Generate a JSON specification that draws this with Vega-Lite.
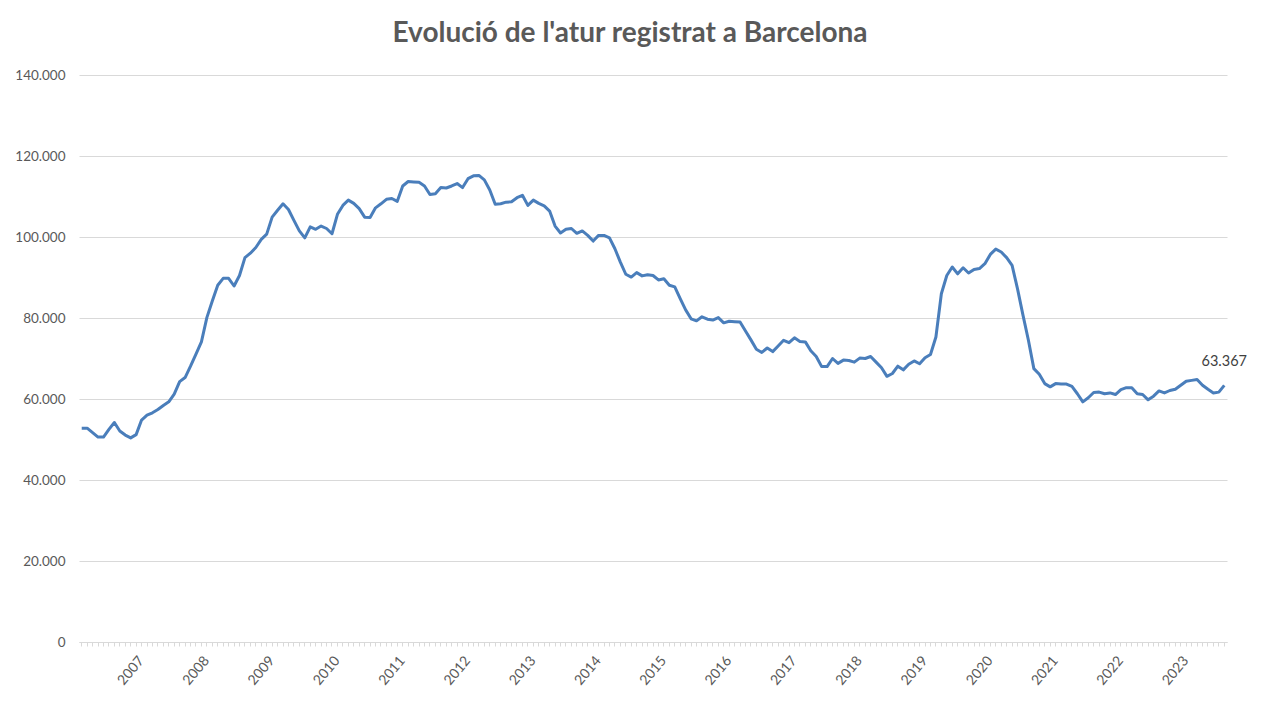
{
  "$schema": "https://vega.github.io/schema/vega-lite/v6.json",
  "autosize": "none",
  "width": 1148,
  "height": 567,
  "padding": {"left": 79, "top": 75, "right": 35, "bottom": 60},
  "background": "white",
  "title": {
    "text": "Evolució de l'atur registrat a Barcelona",
    "font": "Lato",
    "fontSize": 28,
    "fontWeight": "bold",
    "color": "#595959",
    "anchor": "middle",
    "dx": -23,
    "offset": 20
  },
  "config": {
    "locale": {"number": {"decimal": ",", "thousands": ".", "grouping": [3], "currency": ["", " €"]}},
    "view": {"stroke": null}
  },
  "data": {
    "values": [
      {"mes": "2007-01", "atur": 52800}, {"mes": "2007-02", "atur": 52800}, {"mes": "2007-03", "atur": 51700}, {"mes": "2007-04", "atur": 50600},
      {"mes": "2007-05", "atur": 50600}, {"mes": "2007-06", "atur": 52500}, {"mes": "2007-07", "atur": 54200}, {"mes": "2007-08", "atur": 52100},
      {"mes": "2007-09", "atur": 51100}, {"mes": "2007-10", "atur": 50400}, {"mes": "2007-11", "atur": 51200}, {"mes": "2007-12", "atur": 54800},
      {"mes": "2008-01", "atur": 56000}, {"mes": "2008-02", "atur": 56600}, {"mes": "2008-03", "atur": 57400}, {"mes": "2008-04", "atur": 58400},
      {"mes": "2008-05", "atur": 59300}, {"mes": "2008-06", "atur": 61200}, {"mes": "2008-07", "atur": 64300}, {"mes": "2008-08", "atur": 65300},
      {"mes": "2008-09", "atur": 68100}, {"mes": "2008-10", "atur": 71100}, {"mes": "2008-11", "atur": 74100}, {"mes": "2008-12", "atur": 80100},
      {"mes": "2009-01", "atur": 84200}, {"mes": "2009-02", "atur": 88100}, {"mes": "2009-03", "atur": 89800}, {"mes": "2009-04", "atur": 89800},
      {"mes": "2009-05", "atur": 87900}, {"mes": "2009-06", "atur": 90500}, {"mes": "2009-07", "atur": 94900}, {"mes": "2009-08", "atur": 96000},
      {"mes": "2009-09", "atur": 97400}, {"mes": "2009-10", "atur": 99400}, {"mes": "2009-11", "atur": 100700}, {"mes": "2009-12", "atur": 104900},
      {"mes": "2010-01", "atur": 106600}, {"mes": "2010-02", "atur": 108200}, {"mes": "2010-03", "atur": 106800}, {"mes": "2010-04", "atur": 104100},
      {"mes": "2010-05", "atur": 101500}, {"mes": "2010-06", "atur": 99800}, {"mes": "2010-07", "atur": 102500}, {"mes": "2010-08", "atur": 101900},
      {"mes": "2010-09", "atur": 102700}, {"mes": "2010-10", "atur": 102100}, {"mes": "2010-11", "atur": 100800}, {"mes": "2010-12", "atur": 105600},
      {"mes": "2011-01", "atur": 107800}, {"mes": "2011-02", "atur": 109100}, {"mes": "2011-03", "atur": 108300}, {"mes": "2011-04", "atur": 107000},
      {"mes": "2011-05", "atur": 104900}, {"mes": "2011-06", "atur": 104800}, {"mes": "2011-07", "atur": 107200}, {"mes": "2011-08", "atur": 108200},
      {"mes": "2011-09", "atur": 109300}, {"mes": "2011-10", "atur": 109500}, {"mes": "2011-11", "atur": 108800}, {"mes": "2011-12", "atur": 112600},
      {"mes": "2012-01", "atur": 113700}, {"mes": "2012-02", "atur": 113600}, {"mes": "2012-03", "atur": 113500}, {"mes": "2012-04", "atur": 112600},
      {"mes": "2012-05", "atur": 110500}, {"mes": "2012-06", "atur": 110700}, {"mes": "2012-07", "atur": 112200}, {"mes": "2012-08", "atur": 112100},
      {"mes": "2012-09", "atur": 112600}, {"mes": "2012-10", "atur": 113200}, {"mes": "2012-11", "atur": 112200}, {"mes": "2012-12", "atur": 114400},
      {"mes": "2013-01", "atur": 115100}, {"mes": "2013-02", "atur": 115200}, {"mes": "2013-03", "atur": 114100}, {"mes": "2013-04", "atur": 111600},
      {"mes": "2013-05", "atur": 108100}, {"mes": "2013-06", "atur": 108200}, {"mes": "2013-07", "atur": 108600}, {"mes": "2013-08", "atur": 108700},
      {"mes": "2013-09", "atur": 109700}, {"mes": "2013-10", "atur": 110300}, {"mes": "2013-11", "atur": 107800}, {"mes": "2013-12", "atur": 109100},
      {"mes": "2014-01", "atur": 108300}, {"mes": "2014-02", "atur": 107700}, {"mes": "2014-03", "atur": 106400}, {"mes": "2014-04", "atur": 102700},
      {"mes": "2014-05", "atur": 101000}, {"mes": "2014-06", "atur": 101900}, {"mes": "2014-07", "atur": 102100}, {"mes": "2014-08", "atur": 100900},
      {"mes": "2014-09", "atur": 101500}, {"mes": "2014-10", "atur": 100400}, {"mes": "2014-11", "atur": 99000}, {"mes": "2014-12", "atur": 100400},
      {"mes": "2015-01", "atur": 100400}, {"mes": "2015-02", "atur": 99800}, {"mes": "2015-03", "atur": 97100}, {"mes": "2015-04", "atur": 93800},
      {"mes": "2015-05", "atur": 90800}, {"mes": "2015-06", "atur": 90100}, {"mes": "2015-07", "atur": 91200}, {"mes": "2015-08", "atur": 90400},
      {"mes": "2015-09", "atur": 90700}, {"mes": "2015-10", "atur": 90500}, {"mes": "2015-11", "atur": 89400}, {"mes": "2015-12", "atur": 89700},
      {"mes": "2016-01", "atur": 88100}, {"mes": "2016-02", "atur": 87700}, {"mes": "2016-03", "atur": 84800}, {"mes": "2016-04", "atur": 82000},
      {"mes": "2016-05", "atur": 79800}, {"mes": "2016-06", "atur": 79300}, {"mes": "2016-07", "atur": 80300}, {"mes": "2016-08", "atur": 79700},
      {"mes": "2016-09", "atur": 79500}, {"mes": "2016-10", "atur": 80100}, {"mes": "2016-11", "atur": 78800}, {"mes": "2016-12", "atur": 79200},
      {"mes": "2017-01", "atur": 79100}, {"mes": "2017-02", "atur": 79000}, {"mes": "2017-03", "atur": 76800}, {"mes": "2017-04", "atur": 74600},
      {"mes": "2017-05", "atur": 72300}, {"mes": "2017-06", "atur": 71500}, {"mes": "2017-07", "atur": 72600}, {"mes": "2017-08", "atur": 71700},
      {"mes": "2017-09", "atur": 73100}, {"mes": "2017-10", "atur": 74500}, {"mes": "2017-11", "atur": 73900}, {"mes": "2017-12", "atur": 75100},
      {"mes": "2018-01", "atur": 74200}, {"mes": "2018-02", "atur": 74100}, {"mes": "2018-03", "atur": 71900}, {"mes": "2018-04", "atur": 70500},
      {"mes": "2018-05", "atur": 68000}, {"mes": "2018-06", "atur": 68000}, {"mes": "2018-07", "atur": 70000}, {"mes": "2018-08", "atur": 68800},
      {"mes": "2018-09", "atur": 69600}, {"mes": "2018-10", "atur": 69500}, {"mes": "2018-11", "atur": 69100}, {"mes": "2018-12", "atur": 70100},
      {"mes": "2019-01", "atur": 70000}, {"mes": "2019-02", "atur": 70500}, {"mes": "2019-03", "atur": 69100}, {"mes": "2019-04", "atur": 67700},
      {"mes": "2019-05", "atur": 65600}, {"mes": "2019-06", "atur": 66300}, {"mes": "2019-07", "atur": 68100}, {"mes": "2019-08", "atur": 67200},
      {"mes": "2019-09", "atur": 68600}, {"mes": "2019-10", "atur": 69400}, {"mes": "2019-11", "atur": 68700}, {"mes": "2019-12", "atur": 70200},
      {"mes": "2020-01", "atur": 71000}, {"mes": "2020-02", "atur": 75300}, {"mes": "2020-03", "atur": 86000}, {"mes": "2020-04", "atur": 90500},
      {"mes": "2020-05", "atur": 92600}, {"mes": "2020-06", "atur": 90900}, {"mes": "2020-07", "atur": 92400}, {"mes": "2020-08", "atur": 91100},
      {"mes": "2020-09", "atur": 92000}, {"mes": "2020-10", "atur": 92200}, {"mes": "2020-11", "atur": 93400}, {"mes": "2020-12", "atur": 95700},
      {"mes": "2021-01", "atur": 97000}, {"mes": "2021-02", "atur": 96300}, {"mes": "2021-03", "atur": 94900}, {"mes": "2021-04", "atur": 93000},
      {"mes": "2021-05", "atur": 87200}, {"mes": "2021-06", "atur": 80700}, {"mes": "2021-07", "atur": 74500}, {"mes": "2021-08", "atur": 67500},
      {"mes": "2021-09", "atur": 66100}, {"mes": "2021-10", "atur": 63800}, {"mes": "2021-11", "atur": 63000}, {"mes": "2021-12", "atur": 63800},
      {"mes": "2022-01", "atur": 63700}, {"mes": "2022-02", "atur": 63700}, {"mes": "2022-03", "atur": 63100}, {"mes": "2022-04", "atur": 61300},
      {"mes": "2022-05", "atur": 59300}, {"mes": "2022-06", "atur": 60300}, {"mes": "2022-07", "atur": 61600}, {"mes": "2022-08", "atur": 61700},
      {"mes": "2022-09", "atur": 61300}, {"mes": "2022-10", "atur": 61500}, {"mes": "2022-11", "atur": 61100}, {"mes": "2022-12", "atur": 62300},
      {"mes": "2023-01", "atur": 62800}, {"mes": "2023-02", "atur": 62800}, {"mes": "2023-03", "atur": 61300}, {"mes": "2023-04", "atur": 61100},
      {"mes": "2023-05", "atur": 59800}, {"mes": "2023-06", "atur": 60700}, {"mes": "2023-07", "atur": 62000}, {"mes": "2023-08", "atur": 61500},
      {"mes": "2023-09", "atur": 62100}, {"mes": "2023-10", "atur": 62400}, {"mes": "2023-11", "atur": 63400}, {"mes": "2023-12", "atur": 64400},
      {"mes": "2024-01", "atur": 64600}, {"mes": "2024-02", "atur": 64800}, {"mes": "2024-03", "atur": 63400}, {"mes": "2024-04", "atur": 62400},
      {"mes": "2024-05", "atur": 61500}, {"mes": "2024-06", "atur": 61700}, {"mes": "2024-07", "atur": 63367}
    ]
  },
  "encoding": {
    "x": {
      "field": "mes",
      "type": "ordinal",
      "scale": {"type": "band", "paddingInner": 0, "paddingOuter": 0},
      "axis": {
        "title": null,
        "labelExpr": "substring(datum.value, 5, 7) == '12' ? substring(datum.value, 0, 4) : ''",
        "labelAngle": -50,
        "labelAlign": "right",
        "labelBaseline": "middle",
        "labelFont": "Lato",
        "labelFontSize": 14,
        "labelColor": "#595959",
        "labelPadding": 12,
        "labelOverlap": false,
        "tickColor": "#d9d9d9",
        "tickSize": 4,
        "domainColor": "#d9d9d9",
        "grid": false
      }
    },
    "y": {
      "field": "atur",
      "type": "quantitative",
      "scale": {"domain": [0, 140000], "nice": false},
      "axis": {
        "title": null,
        "format": ",.0f",
        "values": [0, 20000, 40000, 60000, 80000, 100000, 120000, 140000],
        "domain": false,
        "ticks": false,
        "labelPadding": 14,
        "labelFont": "Lato",
        "labelFontSize": 13.5,
        "labelColor": "#595959",
        "gridColor": "#d9d9d9"
      }
    }
  },
  "layer": [
    {
      "mark": {"type": "line", "color": "#4a7ebb", "strokeWidth": 3, "strokeJoin": "round"}
    },
    {
      "transform": [{"filter": "datum.mes == '2024-07'"}],
      "mark": {"type": "text", "dy": -23, "font": "Lato", "fontSize": 14.5, "color": "#404040"},
      "encoding": {
        "text": {"field": "atur", "type": "quantitative", "format": ",.0f"}
      }
    }
  ]
}
